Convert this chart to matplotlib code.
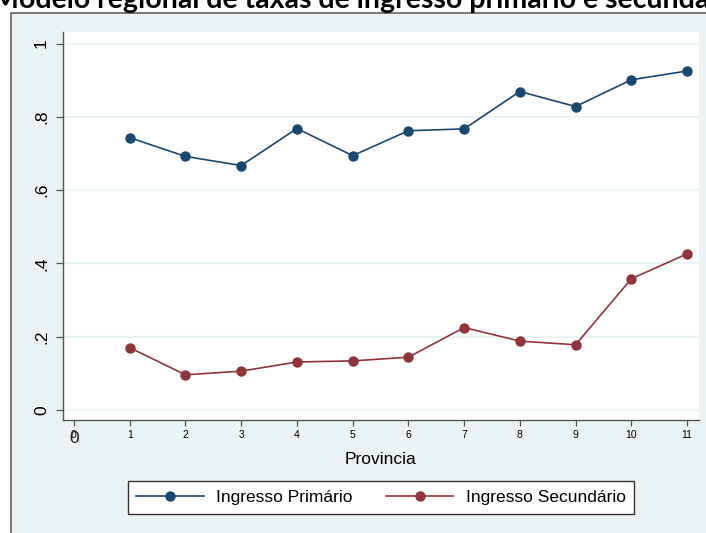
import matplotlib
matplotlib.use("Agg")
import matplotlib.pyplot as plt
from matplotlib.patches import Rectangle

# Enrolment rates by province
provincias = [1, 2, 3, 4, 5, 6, 7, 8, 9, 10, 11]
ingresso_primario = [0.743, 0.692, 0.667, 0.768, 0.694, 0.762, 0.767, 0.869, 0.828, 0.901, 0.925]
ingresso_secundario = [0.170, 0.096, 0.106, 0.131, 0.134, 0.144, 0.225, 0.188, 0.178, 0.358, 0.426]
y_ticks = [0, 0.2, 0.4, 0.6, 0.8, 1.0]
y_labels = ["0", ".2", ".4", ".6", ".8", "1"]
x_ticks = list(range(0, 12))

NAVY = "#1a476f"
MAROON = "#90353b"
BG = "#eaf2f3"

plt.rcParams["font.family"] = ["Liberation Sans", "DejaVu Sans"]

W, H = 706, 533
fig = plt.figure(figsize=(W / 100, H / 100), dpi=100)
fig.patch.set_facecolor("white")

# Stata-like graph region
frame = Rectangle((10.5 / W, -0.05), 1.2, (H - 12.5) / H + 0.05,
                  transform=fig.transFigure, facecolor=BG,
                  edgecolor="#6e6e6e", linewidth=1.3, zorder=-1)
fig.patches.append(frame)

fig.text(-8 / W, 1 - 8 / H, "Modelo regional de taxas de ingresso primário e secundário",
         ha="left", va="baseline", fontsize=20.5, fontweight="bold",
         family=["Lato", "DejaVu Sans"], color="black")

ax = fig.add_axes([63 / W, 1 - 420 / H, 636 / W, 388 / H])
ax.set_zorder(1)
ax.set_facecolor("white")

ax.plot(provincias, ingresso_primario, color=NAVY, lw=1.2, marker="o",
        markersize=6.5, label="Ingresso Primário", zorder=3)
ax.plot(provincias, ingresso_secundario, color=MAROON, lw=1.2, marker="o",
        markersize=6.5, label="Ingresso Secundário", zorder=3)

ax.set_xlim(-0.197, 11.215)
ax.set_ylim(-0.0273, 1.0314)

for s in ["top", "right"]:
    ax.spines[s].set_visible(False)
for s in ["left", "bottom"]:
    ax.spines[s].set_color("#555555")
    ax.spines[s].set_linewidth(1.0)

ax.set_yticks(y_ticks)
ax.set_yticklabels(y_labels, rotation=90, va="center", fontsize=12.5)
ax.yaxis.grid(True, color=BG, linewidth=1.6)
ax.set_axisbelow(True)
ax.tick_params(axis="y", length=5, width=0.9, color="#555555", pad=5)

ax.set_xticks(x_ticks)
ax.set_xticklabels([str(v) for v in x_ticks], fontsize=7.5)
ax.tick_params(axis="x", length=4, width=0.9, color="#555555", pad=3)

# overlapping larger zero under the first tick
ax.text(0, -0.047, "0", transform=ax.get_xaxis_transform(), ha="center",
        va="center", fontsize=12.5, color="#222222")

ax.set_xlabel("Provincia", fontsize=12.5, labelpad=9)

fig.legend(loc="center", bbox_to_anchor=(381 / W, 1 - 497.5 / H), ncol=2,
           fontsize=12.5, frameon=True, fancybox=False, edgecolor="#333333",
           framealpha=1, handlelength=3.9, columnspacing=1.9,
           borderpad=0.5, handletextpad=0.7)

fig.savefig("out.png", dpi=100)
